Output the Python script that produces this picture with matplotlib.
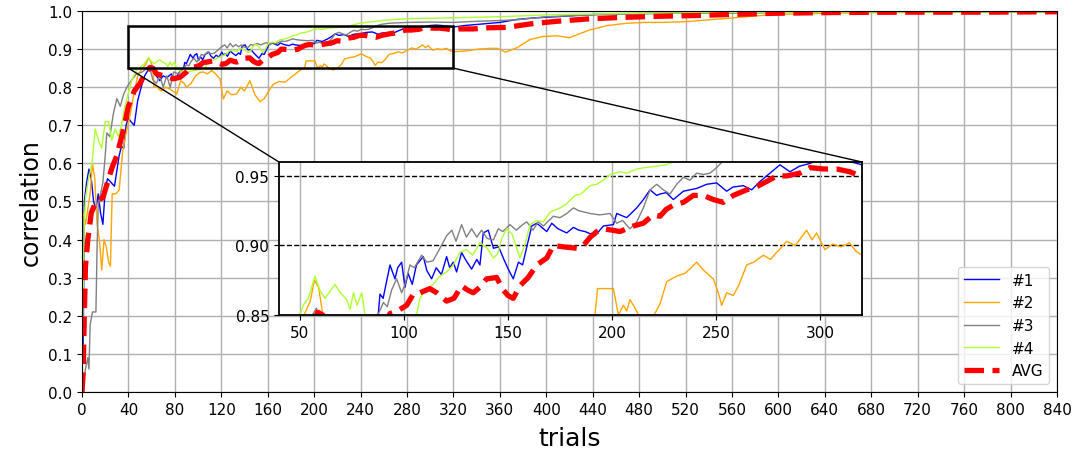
import numpy as np
import matplotlib
matplotlib.use("Agg")
import matplotlib.pyplot as plt
from matplotlib.patches import Rectangle, ConnectionPatch

# ---------------- data ----------------
t1 = [1, 2, 4, 6, 8, 10, 12, 14, 16, 18, 20, 22, 25, 28, 30, 32, 34, 36, 38, 40, 42, 45, 48, 51, 54, 57,
      61, 64, 67, 70, 73, 77, 80, 84, 87.7, 88.5, 90, 93.3, 95.7, 97, 98.9, 100.5, 102, 104, 106, 109.3,
      111, 113.3, 115.5, 118, 120.5, 122, 123.7, 125.3, 127.7, 129.5, 132.5, 135, 136.5, 138.1, 140.5,
      143, 145.5, 148, 150.1, 152.5, 155, 157, 159, 161.4, 163.8, 167, 168.6, 171, 174, 178.2, 181.4,
      184, 187, 191.8, 195.8, 200.6, 202.2, 207, 211.8, 215, 218.2, 221.4, 223, 226, 229.4, 234.2,
      240.6, 245.4, 250.2, 255, 258, 263, 267, 271, 275.8, 280.6, 285.4, 290, 295, 300, 305, 310, 315,
      320, 330, 345, 360, 375, 390, 409, 425, 443, 470, 500, 550, 600, 650, 700, 750, 800, 840]
v1 = [0.10, 0.50, 0.55, 0.585, 0.56, 0.50, 0.48, 0.52, 0.47, 0.44, 0.53, 0.56, 0.55, 0.54, 0.58, 0.62,
      0.645, 0.64, 0.70, 0.72, 0.71, 0.70, 0.765, 0.80, 0.83, 0.845, 0.843, 0.83, 0.817, 0.83, 0.825,
      0.835, 0.82, 0.84, 0.851, 0.865, 0.862, 0.886, 0.876, 0.884, 0.888, 0.870, 0.880, 0.872, 0.886,
      0.892, 0.882, 0.876, 0.884, 0.879, 0.892, 0.884, 0.888, 0.881, 0.895, 0.890, 0.883, 0.890, 0.886,
      0.909, 0.911, 0.898, 0.899, 0.890, 0.883, 0.876, 0.888, 0.886, 0.899, 0.914, 0.916, 0.912, 0.910,
      0.916, 0.912, 0.909, 0.913, 0.911, 0.910, 0.907, 0.914, 0.915, 0.923, 0.920, 0.927, 0.933, 0.940,
      0.936, 0.937, 0.938, 0.933, 0.939, 0.941, 0.944, 0.945, 0.939, 0.942, 0.943, 0.940, 0.946, 0.952,
      0.958, 0.953, 0.957, 0.959, 0.962, 0.963, 0.962, 0.960, 0.958, 0.962, 0.966, 0.970, 0.978, 0.982,
      0.985, 0.988, 0.991, 0.993, 0.994, 0.995, 0.996, 0.997, 0.997, 0.998, 0.998, 0.998]

t2 = [1, 3, 5, 7, 9, 11, 13, 15, 17, 19, 21, 23, 24.5, 26, 29, 32, 35, 38, 41, 44, 48, 52, 55, 57, 59,
      61, 62, 65, 68, 72, 76, 81.6, 85, 88, 90, 94, 98, 101.7, 104.5, 108, 111.7, 115, 118.9, 121.8,
      125, 129, 133, 137, 140, 144.7, 149, 153.4, 157, 161, 164.8, 170, 175, 180, 184, 188, 191.8, 193,
      200.6, 203, 205.4, 207, 208.6, 211, 213.4, 216.5, 219.8, 223, 226.2, 231, 235, 238, 240.6, 244,
      248.6, 251, 252.6, 255, 258.2, 261, 264.6, 268, 272.6, 276, 279, 281, 283.8, 288, 293.4, 296,
      298.2, 302.2, 306, 310, 314, 317, 320, 330, 342, 352, 358, 365, 375, 386, 397, 409, 420, 437, 453,
      470, 485, 500, 520, 545, 565, 596, 640, 700, 770, 840]
v2 = [0.47, 0.44, 0.48, 0.52, 0.60, 0.56, 0.44, 0.40, 0.32, 0.40, 0.38, 0.34, 0.33, 0.52, 0.52, 0.53,
      0.63, 0.68, 0.72, 0.77, 0.83, 0.85, 0.86, 0.875, 0.870, 0.851, 0.80, 0.80, 0.79, 0.80, 0.795,
      0.782, 0.817, 0.81, 0.80, 0.81, 0.83, 0.839, 0.840, 0.835, 0.844, 0.835, 0.822, 0.769, 0.79,
      0.78, 0.782, 0.80, 0.79, 0.817, 0.78, 0.762, 0.77, 0.79, 0.808, 0.815, 0.813, 0.826, 0.835,
      0.845, 0.851, 0.869, 0.869, 0.850, 0.857, 0.853, 0.861, 0.855, 0.848, 0.845, 0.849, 0.858,
      0.874, 0.878, 0.880, 0.884, 0.888, 0.882, 0.876, 0.866, 0.857, 0.866, 0.864, 0.872, 0.886,
      0.888, 0.893, 0.890, 0.895, 0.898, 0.903, 0.900, 0.911, 0.904, 0.909, 0.897, 0.901, 0.899,
      0.902, 0.896, 0.893, 0.895, 0.900, 0.902, 0.902, 0.892, 0.904, 0.925, 0.933, 0.935, 0.930,
      0.950, 0.962, 0.968, 0.970, 0.970, 0.972, 0.978, 0.983, 0.991, 0.994, 0.996, 0.997, 0.998]

t3 = [0, 3, 5, 6, 7, 9, 12, 13, 14, 16, 18, 20, 21.4, 24, 27, 30, 33, 35.7, 38.6, 43, 47, 52, 58, 61,
      64, 67, 70, 73, 76, 79, 83, 86, 87.7, 89, 90.1, 92, 94.1, 96.5, 98.9, 100.5, 102.9, 105, 108.5,
      111, 114, 117.3, 120.5, 123, 125, 127.7, 130, 132.5, 135, 137.3, 140, 143, 145.3, 147.5, 150.9,
      154, 157, 159, 162, 164.5, 167, 169, 171.8, 175, 178.2, 181.4, 184, 189.4, 194, 199, 202.2, 205,
      208.6, 211.8, 215, 218.2, 221.4, 224.6, 227.8, 231, 234.2, 237.4, 240.6, 243.8, 247, 250.2,
      253.4, 258, 265, 280, 300, 320, 340, 360, 375, 400, 440, 500, 560, 640, 740, 840]
v3 = [0.0, 0.06, 0.09, 0.06, 0.175, 0.21, 0.21, 0.38, 0.49, 0.52, 0.55, 0.62, 0.68, 0.67, 0.73, 0.77,
      0.75, 0.78, 0.80, 0.82, 0.835, 0.84, 0.855, 0.82, 0.81, 0.83, 0.80, 0.83, 0.80, 0.84, 0.835,
      0.845, 0.851, 0.855, 0.859, 0.856, 0.868, 0.876, 0.866, 0.872, 0.886, 0.884, 0.893, 0.888,
      0.889, 0.898, 0.907, 0.911, 0.903, 0.915, 0.906, 0.912, 0.906, 0.911, 0.905, 0.904, 0.912,
      0.910, 0.915, 0.911, 0.915, 0.917, 0.911, 0.917, 0.914, 0.917, 0.921, 0.920, 0.923, 0.927,
      0.925, 0.923, 0.922, 0.923, 0.916, 0.918, 0.912, 0.917, 0.927, 0.940, 0.944, 0.940, 0.937,
      0.944, 0.949, 0.947, 0.952, 0.951, 0.952, 0.956, 0.961, 0.965, 0.968, 0.970, 0.971, 0.970,
      0.973, 0.975, 0.977, 0.985, 0.990, 0.994, 0.996, 0.997, 0.998, 0.998]

t4 = [0, 1, 2, 3, 5.7, 8.6, 11.4, 14.3, 17, 20, 22.9, 25.7, 28.5, 31.4, 34, 37, 40, 43, 47, 50.1, 52,
      54.1, 57.3, 59.5, 62.1, 64.5, 66.9, 69.5, 72.5, 74.1, 75.8, 77.5, 79.7, 81.3, 85, 90, 95, 100, 104,
      106, 107.7, 110.9, 114, 117.3, 120.5, 123.7, 126.9, 130, 133, 136.5, 140, 143, 145, 147, 149.3,
      152, 155.7, 158, 160.6, 163.8, 167, 170.2, 175, 178.2, 182.2, 185, 189.4, 192.6, 195.8, 199,
      203.8, 207, 211.8, 216, 221.4, 226, 231, 239, 262, 280, 317, 360, 400, 477, 560, 650, 750, 840]
v4 = [0.05, 0.25, 0.45, 0.51, 0.56, 0.60, 0.69, 0.66, 0.64, 0.71, 0.71, 0.66, 0.69, 0.67, 0.70, 0.75,
      0.785, 0.82, 0.845, 0.851, 0.858, 0.862, 0.878, 0.868, 0.862, 0.867, 0.872, 0.866, 0.861, 0.854,
      0.866, 0.857, 0.866, 0.850, 0.842, 0.838, 0.843, 0.846, 0.848, 0.850, 0.862, 0.869, 0.872,
      0.878, 0.881, 0.886, 0.895, 0.897, 0.893, 0.902, 0.898, 0.891, 0.894, 0.905, 0.912, 0.908,
      0.891, 0.900, 0.915, 0.918, 0.917, 0.924, 0.927, 0.930, 0.936, 0.937, 0.943, 0.944, 0.947,
      0.951, 0.953, 0.952, 0.955, 0.956, 0.957, 0.958, 0.961, 0.968, 0.976, 0.980, 0.982, 0.985,
      0.990, 0.994, 0.996, 0.997, 0.998, 0.998]

t_avg = [0, 1, 2, 3, 5, 8, 12, 18, 22, 26, 30, 35, 40, 45, 50, 55, 58.6, 61, 64.3, 70, 78.7, 84.5, 90,
         93.3, 97, 101.3, 104.5, 107.7, 112.5, 115.7, 120.5, 124, 127.7, 130.5, 133.3, 136.5, 139.7,
         144.5, 147.7, 150, 152.5, 155.7, 159.7, 163.8, 168.6, 171.8, 176.6, 183, 186.2, 189.5, 192.6,
         195.8, 200, 203.8, 207, 210.2, 215, 219.8, 223, 226, 229.4, 234.2, 239, 243.8, 248.6, 253.4,
         258.2, 264.6, 269, 274.2, 279, 283.8, 290.2, 295, 301.5, 307.8, 314.2, 319, 325, 337, 350, 366,
         386, 409, 435, 463, 495, 527, 559, 596, 647, 715, 783, 840]
v_avg = [0.0, 0.05, 0.20, 0.33, 0.40, 0.47, 0.50, 0.51, 0.55, 0.59, 0.62, 0.68, 0.75, 0.79, 0.81, 0.84,
         0.852, 0.850, 0.835, 0.830, 0.822, 0.826, 0.840, 0.851, 0.853, 0.857, 0.865, 0.866, 0.869,
         0.866, 0.860, 0.862, 0.871, 0.868, 0.866, 0.870, 0.876, 0.877, 0.868, 0.864, 0.862, 0.871,
         0.877, 0.886, 0.891, 0.900, 0.899, 0.898, 0.900, 0.906, 0.910, 0.912, 0.911, 0.910, 0.912,
         0.914, 0.916, 0.922, 0.921, 0.926, 0.929, 0.931, 0.936, 0.936, 0.933, 0.931, 0.936, 0.940,
         0.942, 0.946, 0.950, 0.950, 0.952, 0.956, 0.955, 0.955, 0.953, 0.950, 0.953, 0.953, 0.956,
         0.957, 0.966, 0.973, 0.979, 0.983, 0.986, 0.988, 0.991, 0.994, 0.996, 0.997, 0.997, 0.998]

labels = ["#1", "#2", "#3", "#4", "AVG"]
colors = ["blue", "orange", "gray", "greenyellow", "red"]

x_ticks = list(range(0, 841, 40))
y_ticks = [round(0.1 * i, 1) for i in range(11)]
inset_xticks = [50, 100, 150, 200, 250, 300]
inset_yticks = [0.85, 0.90, 0.95]
zoom_x = (40, 320)
zoom_y = (0.85, 0.96)

series = [(t1, v1), (t2, v2), (t3, v3), (t4, v4)]

# ---------------- figure ----------------
fig = plt.figure(figsize=(10.76, 4.6), dpi=100)
ax = fig.add_axes([0.0762, 0.1457, 0.9061, 0.8282])


def draw(a):
    for (t, v), c, lab in zip(series, colors[:4], labels[:4]):
        a.plot(t, v, color=c, lw=1.0, label=lab)
    a.plot(t_avg, v_avg, color=colors[4], lw=3.8, ls="--", label=labels[4])


draw(ax)
ax.set_xlim(0, 840)
ax.set_ylim(0, 1.0)
ax.set_xticks(x_ticks)
ax.set_yticks(y_ticks)
ax.tick_params(labelsize=11)
ax.grid(True, color="#b0b0b0", lw=1.0)
ax.set_xlabel("trials", fontsize=18, labelpad=7)
ax.set_ylabel("correlation", fontsize=17, labelpad=4)
ax.legend(loc="lower right", fontsize=11, handlelength=2.3)

# zoom rectangle
rect = Rectangle((zoom_x[0], zoom_y[0]), zoom_x[1] - zoom_x[0], zoom_y[1] - zoom_y[0],
                 fill=False, ec="black", lw=1.8, zorder=5)
ax.add_patch(rect)

# inset
axin = fig.add_axes([0.2593, 0.313, 0.5418, 0.3326])
draw(axin)
axin.set_xlim(*zoom_x)
axin.set_ylim(*zoom_y)
axin.set_xticks(inset_xticks)
axin.set_yticks(inset_yticks)
axin.set_yticklabels([f"{y:.2f}" for y in inset_yticks])
axin.tick_params(labelsize=11)
axin.grid(True, axis="x", color="#b0b0b0", lw=1.0)
for yv in inset_yticks[1:]:
    axin.axhline(yv, color="black", lw=1.0, ls="--", zorder=0.5)
for s in axin.spines.values():
    s.set_linewidth(1.3)

# connectors
for xa, xb in [(zoom_x[0], 0), (zoom_x[1], 1)]:
    con = ConnectionPatch(xyA=(xa, zoom_y[0]), coordsA=ax.transData,
                          xyB=(xb, 1), coordsB=axin.transAxes,
                          color="black", lw=1.0, zorder=6)
    fig.add_artist(con)

fig.savefig("out.png", dpi=100)
